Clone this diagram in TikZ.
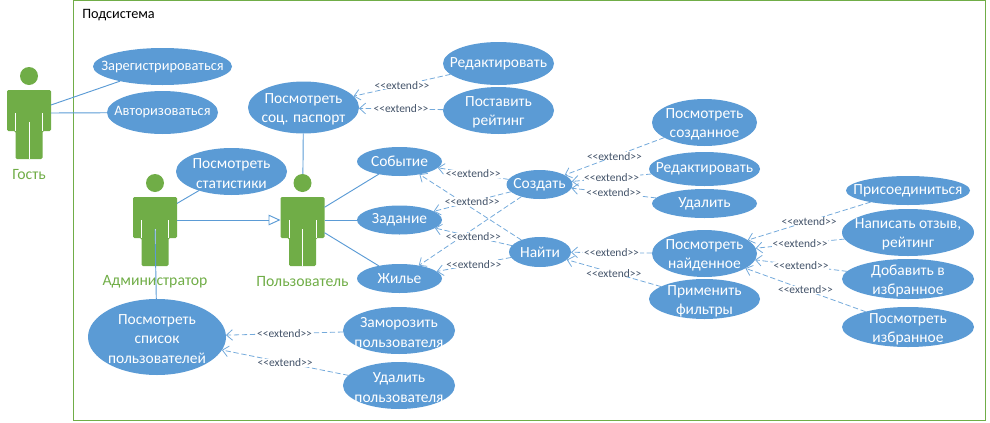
\documentclass[tikz,border=0pt]{standalone}
\usepackage{fontspec}
\setmainfont{Carlito}
\usetikzlibrary{arrows.meta,shapes.geometric}
\definecolor{usecaseblue}{HTML}{5B9BD5}
\definecolor{actorgreen}{HTML}{70AD47}
\definecolor{labelblue}{HTML}{44546A}
\tikzset{usecase/.style 2 args = {ellipse, fill = usecaseblue, text = white, align = center, inner xsep = -20pt, inner ysep = -14pt, outer sep = 0, minimum width = #1*0.75pt, minimum height = #2*0.75pt, font = \fontsize{11.6}{14.5}\selectfont}}
\tikzset{narrowtext/.style = {font = \fontsize{10.8}{14.5}\selectfont}}
\tikzset{actorbox/.style = {rectangle, inner sep = 0, outer sep = 0, minimum width = 33pt, minimum height = 69pt}}
\tikzset{actortext/.style = {text = actorgreen, inner sep = 0, font = \fontsize{11.8}{14.2}\selectfont}}
\tikzset{assoc/.style = {draw = usecaseblue, line width = 0.7pt}}
\tikzset{extend/.style = {draw = usecaseblue!85, line width = 0.6pt, dash pattern = on 4pt off 2pt, -{Straight Barb[length = 4.5pt, width = 8pt]}}}
\tikzset{extendtext/.style = {fill = white, text = labelblue, inner xsep = 0.5pt, inner ysep = 0pt, font = \fontsize{8.6}{9}\selectfont}}
\newcommand{\extendname}{<{}<extend>{}>}
\newcommand{\topgap}{\rule{0pt}{10.5pt}}
\newcommand{\actor}[4]{
    \node [actorbox] (#1) at (#2,#3) {};
    \begin{scope}[shift = {(#2,#3)}]
        \fill [actorgreen] (0,-37) circle [radius = 9];
        \fill [actorgreen, rounded corners = 1pt] (-22,-23) -- (22,-23) -- (22,18) -- (13.5,18) -- (13.5,46) -- (-13.5,46) -- (-13.5,18) -- (-22,18) -- cycle;
        \draw [white, line width = 0.4pt] (0,9) -- (0,46);
        \draw [white, line width = 0.4pt] (-13.5,0) -- (-13.5,18);
        \draw [white, line width = 0.4pt] (13.5,0) -- (13.5,18);
        \node [actortext] (#1-text) at (0,61.5) {#4};
        \coordinate (#1-legs) at (0,9);
    \end{scope}
}

\begin{document}
\begin{tikzpicture}[x = 0.75pt, y = -0.75pt]
    \useasboundingbox (0,0) rectangle (990,422);
    \node [draw = actorgreen, line width = 0.7pt, inner sep = 0, outer sep = 0, minimum width = 684pt, minimum height = 314.5pt] (system) at (529.5,210.5) {};
    \node [inner sep = 0, font = \fontsize{10.7}{12}\selectfont] (systemname) at (118.5,15.5) {Подсистема};

    \actor{guest}{29}{113}{Гость}
    \actor{admin}{155}{220}{Администратор}
    \actor{user}{302.5}{220}{Пользователь}

    % left part
    \node [usecase = {139}{37}, narrowtext] (signup) at (162.5,66.5) {Зарегистрироваться};
    \node [usecase = {111}{43}, narrowtext] (login) at (162.5,112.5) {Авторизоваться};
    \node [usecase = {111}{52}] (passport) at (303.5,107.5) {\topgap Посмотреть\\соц. паспорт};
    \node [usecase = {111}{47}] (stats) at (231.5,171.5) {\topgap Посмотреть\\статистики};
    \node [usecase = {111}{43}] (passedit) at (498.5,63.5) {Редактировать};
    \node [usecase = {111}{47}] (rate) at (498.5,110.5) {\topgap Поставить\\рейтинг};
    \node [usecase = {138}{76}] (userlist) at (157,337) {\topgap Посмотреть\\список\\пользователей};
    \node [usecase = {112}{47}] (freeze) at (399,330.5) {\topgap Заморозить\\пользователя};
    \node [usecase = {112}{47}] (remove) at (399,385.5) {\topgap Удалить\\пользователя};

    % middle
    \node [usecase = {85}{29}] (event) at (399.5,161.5) {Событие};
    \node [usecase = {85}{29}] (task) at (399.5,220) {Задание};
    \node [usecase = {85}{29}] (housing) at (399.5,278.5) {Жилье};
    \node [usecase = {66}{29}] (create) at (539.5,184.5) {Создать};
    \node [usecase = {62}{30}] (find) at (540,252) {Найти};

    % right part
    \node [usecase = {105}{47}] (created) at (704.5,122.5) {\topgap Посмотреть\\созданное};
    \node [usecase = {111}{34}] (edit) at (704.5,169) {Редактировать};
    \node [usecase = {105}{29}] (delete) at (704.5,203.5) {Удалить};
    \node [usecase = {105}{47}] (found) at (704.5,253.5) {\topgap Посмотреть\\найденное};
    \node [usecase = {111}{40}] (filters) at (704.5,299) {\topgap Применить\\фильтры};
    \node [usecase = {124}{29}] (join) at (908,190.5) {Присоединиться};
    \node [usecase = {132}{47}] (review) at (908,232.5) {\topgap Написать отзыв,\\рейтинг};
    \node [usecase = {132}{40}] (addfav) at (908,279) {\topgap Добавить в\\избранное};
    \node [usecase = {132}{40}] (favs) at (908,327) {\topgap Посмотреть\\избранное};

    \draw [assoc] (guest.20) -- (signup);
    \draw [assoc] (guest.east) -- (login);
    \draw [assoc] (admin.37.7) -- (stats);
    \draw [assoc, -{Triangle[open, length = 9pt, width = 8pt]}] (admin.east) -- (user.west);
    \draw [assoc] (admin-legs) -- (userlist);
    \draw [assoc] (user) -- (passport);
    \draw [assoc] (user.30.6) -- (event);
    \draw [assoc] (user.east) -- (task);
    \draw [assoc] (user.-30.6) -- (housing);

    \draw [extend] (create) -- (housing);
    \draw [extend] (find) -- (event);
    \draw [extend] (passedit) -- node [extendtext] {\extendname} (passport);
    \draw [extend] (rate) -- node [extendtext] {\extendname} (passport);
    \draw [extend] (create) -- node [extendtext] {\extendname} (event);
    \draw [extend] (create) -- node [extendtext] {\extendname} (task);
    \draw [extend] (find) -- node [extendtext] {\extendname} (task);
    \draw [extend] (find) -- node [extendtext] {\extendname} (housing);
    \draw [extend] (created) -- node [extendtext] {\extendname} (create);
    \draw [extend] (edit) -- node [extendtext] {\extendname} (create);
    \draw [extend] (delete) -- node [extendtext] {\extendname} (create);
    \draw [extend] (found) -- node [extendtext] {\extendname} (find);
    \draw [extend] (filters) -- node [extendtext] {\extendname} (find);
    \draw [extend] (join) -- node [extendtext] {\extendname} (found);
    \draw [extend] (review) -- node [extendtext] {\extendname} (found);
    \draw [extend] (addfav) -- node [extendtext] {\extendname} (found);
    \draw [extend] (favs) -- node [extendtext] {\extendname} (found);
    \draw [extend] (freeze) -- node [extendtext] {\extendname} (userlist);
    \draw [extend] (remove) -- node [extendtext] {\extendname} (userlist);
\end{tikzpicture}
\end{document}
